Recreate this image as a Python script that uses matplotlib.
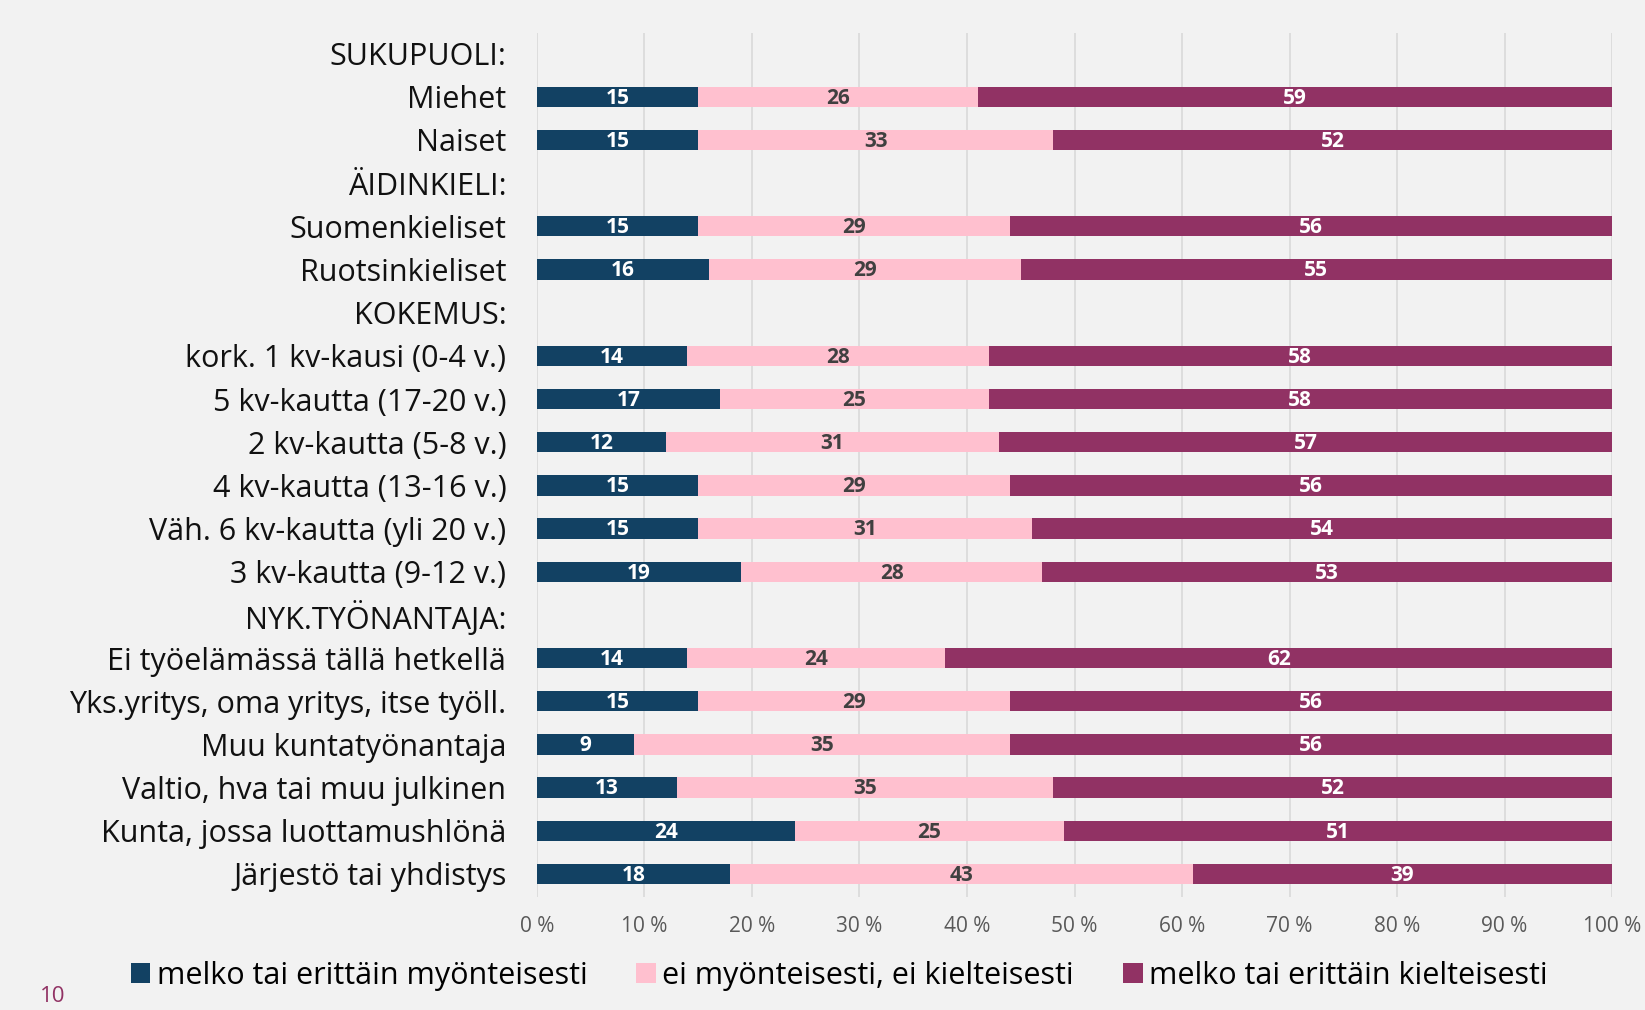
import matplotlib.pyplot as plt
import numpy as np

plt.rcParams['font.family'] = ['Open Sans', 'DejaVu Sans']

categories = ['SUKUPUOLI:', 'Miehet', 'Naiset', 'ÄIDINKIELI:', 'Suomenkieliset', 'Ruotsinkieliset',
              'KOKEMUS:', 'kork. 1 kv-kausi (0-4 v.)', '5 kv-kautta (17-20 v.)', '2 kv-kautta (5-8 v.)',
              '4 kv-kautta (13-16 v.)', 'Väh. 6 kv-kautta (yli 20 v.)', '3 kv-kautta (9-12 v.)',
              'NYK.TYÖNANTAJA:', 'Ei työelämässä tällä hetkellä', 'Yks.yritys, oma yritys, itse työll.',
              'Muu kuntatyönantaja', 'Valtio, hva tai muu julkinen', 'Kunta, jossa luottamushlönä',
              'Järjestö tai yhdistys']
positive = [None, 15, 15, None, 15, 16, None, 14, 17, 12, 15, 15, 19, None, 14, 15, 9, 13, 24, 18]
neutral = [None, 26, 33, None, 29, 29, None, 28, 25, 31, 29, 31, 28, None, 24, 29, 35, 35, 25, 43]
negative = [None, 59, 52, None, 56, 55, None, 58, 58, 57, 56, 54, 53, None, 62, 56, 56, 52, 51, 39]
series_names = ['melko tai erittäin myönteisesti', 'ei myönteisesti, ei kielteisesti',
                'melko tai erittäin kielteisesti']
colors = ['#124163', '#ffc0cf', '#913264']
label_colors = ['white', '#404040', 'white']

bg = '#f2f2f2'
fig = plt.figure(figsize=(16.45, 10.1), dpi=100, facecolor=bg)
ax = fig.add_axes([0.3264, 0.112, 0.6536, 0.855], facecolor=bg)

y = np.arange(len(categories))
left = np.zeros(len(categories))
for vals, c, lc, name in zip([positive, neutral, negative], colors, label_colors, series_names):
    v = np.array([np.nan if x is None else x for x in vals], dtype=float)
    ax.barh(y, np.nan_to_num(v), left=left, height=0.47, color=c, label=name)
    for yi, (l, w) in enumerate(zip(left, v)):
        if not np.isnan(w):
            ax.text(l + w / 2, yi + 0.03, f'{int(w)}', ha='center', va='center', color=lc,
                    fontsize=15, fontweight='bold')
    left = left + np.nan_to_num(v)

ax.set_xlim(0, 100)
ax.set_ylim(len(categories) - 0.47, -0.47)
ax.set_yticks(y)
ax.set_yticklabels(categories, fontsize=22, color='#111111')
ax.set_xticks(np.arange(0, 101, 10))
ax.set_xticklabels([f'{t} %' for t in range(0, 101, 10)], fontsize=15, color='#595959')
ax.tick_params(axis='y', length=0, pad=22)
ax.tick_params(axis='x', length=0, pad=14)
ax.grid(axis='x', color='#d9d9d9', linewidth=1.2)
ax.set_axisbelow(True)
for s in ax.spines.values():
    s.set_visible(False)

fig.legend(loc='center', bbox_to_anchor=(0.51, 0.034), ncol=3, frameon=False, fontsize=22,
           handlelength=0.65, handleheight=0.65, handletextpad=0.2, columnspacing=1.6)
fig.text(0.024, 0.008, '10', fontsize=16, color='#913264')

fig.savefig('out.png', dpi=100, facecolor=bg)
